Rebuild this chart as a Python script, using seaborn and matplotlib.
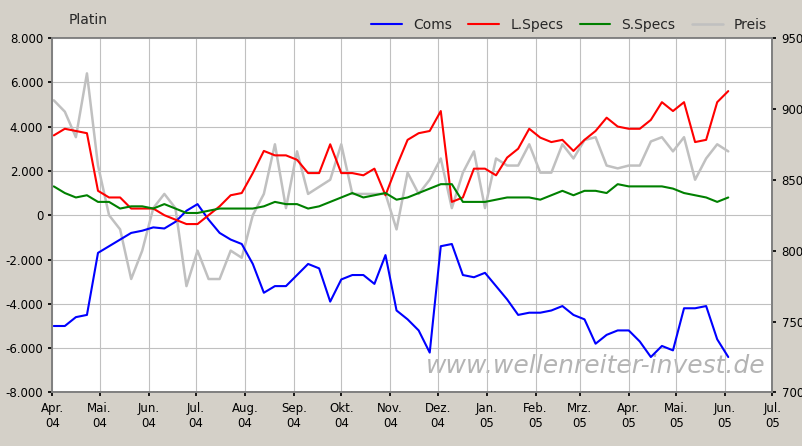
import matplotlib
matplotlib.use("Agg")
import matplotlib.pyplot as plt
import matplotlib.dates as mdates
import matplotlib.ticker as mticker
from matplotlib.patches import Rectangle
import seaborn as sns
import pandas as pd

coms = [-5000,-5000,-4600,-4500, -1700,-1400,-1100,-800, -700,-550,-600,-300,
        200,500,-200,-800,-1100, -1300,-2200,-3500,-3200, -3200,-2700,-2200,-2400,-3900,
        -2900,-2700,-2700,-3100, -1800,-4300,-4700,-5200, -6200,-1400,-1300,-2700,-2800,
        -2600,-3200,-3800,-4500, -4400,-4400,-4300,-4100, -4500,-4700,-5800,-5400,-5200,
        -5200,-5700,-6400,-5900, -6100,-4200,-4200,-4100, -5600,-6400]
lspecs = [3600,3900,3800,3700, 1100,800,800,300, 300,300,0,-200,
          -400,-400,0,400,900, 1000,1900,2900,2700, 2700,2500,1900,1900,3200,
          1900,1900,1800,2100, 900,2200,3400,3700, 3800,4700,600,800,2100,
          2100,1800,2600,3000, 3900,3500,3300,3400, 2900,3400,3800,4400,4000,
          3900,3900,4300,5100, 4700,5100,3300,3400, 5100,5600]
sspecs = [1300,1000,800,900, 600,600,300,400, 400,300,500,300,
          100,100,200,300,300, 300,300,400,600, 500,500,300,400,600,
          800,1000,800,900, 1000,700,800,1000, 1200,1400,1400,600,600,
          600,700,800,800, 800,700,900,1100, 900,1100,1100,1000,1400,
          1300,1300,1300,1300, 1200,1000,900,800, 600,800]
preis = [906,898,880,925, 860,825,815,780, 800,830,840,830,
         775,800,780,780,800, 795,825,840,875, 830,870,840,845,850,
         875,840,840,840, 840,815,855,840, 850,865,830,855,870,
         830,865,860,860, 875,855,855,875, 865,878,880,860,858,
         860,860,877,880, 870,880,850,865, 875,870]
dates = pd.date_range("2004-04-02", periods=len(coms), freq="7D")
df = pd.DataFrame({"date": dates, "Coms": coms, "L.Specs": lspecs, "S.Specs": sspecs, "Preis": preis})

sns.set_theme(style="white")
plt.rcParams['font.family'] = ['DejaVu Sans']
fig, axp = plt.subplots(figsize=(8.03, 4.46), dpi=100)
fig.patch.set_facecolor("white")
L, R, T, B = 0.065, 0.962, 0.915, 0.12
fig.subplots_adjust(left=L, right=R, top=T, bottom=B)
bg = "#d4d0c8"
for (x0, y0, w, h) in [(0, 0, 1, B), (0, T, 1, 1 - T), (0, 0, L, 1), (R, 0, 1 - R, 1)]:
    fig.patches.append(Rectangle((x0, y0), w, h, transform=fig.transFigure,
                                 facecolor=bg, edgecolor="none", zorder=-10))
axp.set_facecolor("#ffffff")
ax = axp.twinx()

sns.lineplot(data=df, x="date", y="Preis", ax=axp, color="#c0c0c0", lw=1.8, label="Preis", legend=False)
axp.yaxis.tick_right()
ax.yaxis.tick_left()

sns.lineplot(data=df, x="date", y="Coms", ax=ax, color="#0000ff", lw=1.5, label="Coms")
sns.lineplot(data=df, x="date", y="L.Specs", ax=ax, color="#ff0000", lw=1.5, label="L.Specs")
sns.lineplot(data=df, x="date", y="S.Specs", ax=ax, color="#008000", lw=1.5, label="S.Specs")

ax.set_ylim(-8000, 8000); axp.set_ylim(700, 950)
ax.set_yticks(range(-8000, 8001, 2000))
ax.yaxis.set_major_formatter(mticker.FuncFormatter(lambda v, p: f"{int(v):,}".replace(",", ".")))
axp.set_yticks(range(700, 951, 50))
axp.set_xlim(pd.Timestamp("2004-04-01"), pd.Timestamp("2005-07-01"))
axp.xaxis.set_major_locator(mdates.MonthLocator())
mon = {1:"Jan.",2:"Feb.",3:"Mrz.",4:"Apr.",5:"Mai.",6:"Jun.",7:"Jul.",8:"Aug.",9:"Sep.",10:"Okt.",11:"Nov.",12:"Dez."}
axp.xaxis.set_major_formatter(mticker.FuncFormatter(lambda v, p: f"{mon[mdates.num2date(v).month]}\n{mdates.num2date(v).strftime('%y')}"))
axp.xaxis.grid(True, color="#c0c0c0", lw=0.8)
axp.yaxis.grid(False)
ax.yaxis.grid(True, color="#c0c0c0", lw=0.8)
ax.xaxis.grid(False)
for a in (ax, axp):
    a.set_xlabel(""); a.set_ylabel("")
    a.tick_params(labelsize=8.5, length=3, direction="out", colors="black")
    for s in a.spines.values(): s.set_color("#808080")
axp.tick_params(axis="x", bottom=True)
axp.tick_params(axis="y", right=True, left=False)
ax.tick_params(axis="y", left=True, right=False)

h1, l1 = ax.get_legend_handles_labels()
h2, l2 = axp.get_legend_handles_labels()
ax.legend(h1 + h2, l1 + l2, loc="lower right", bbox_to_anchor=(1.0, 1.0), ncol=4, frameon=False,
          fontsize=10, handlelength=2.2, columnspacing=1.2, borderaxespad=0.0)
fig.text(0.085, 0.955, "Platin", fontsize=10, va="center")
axp.text(0.99, 0.04, "www.wellenreiter-invest.de", transform=axp.transAxes, ha="right", va="bottom",
         fontsize=18, style="italic", color="#b4b4b4", zorder=0)

fig.savefig("out.png", dpi=100, facecolor=fig.get_facecolor())
